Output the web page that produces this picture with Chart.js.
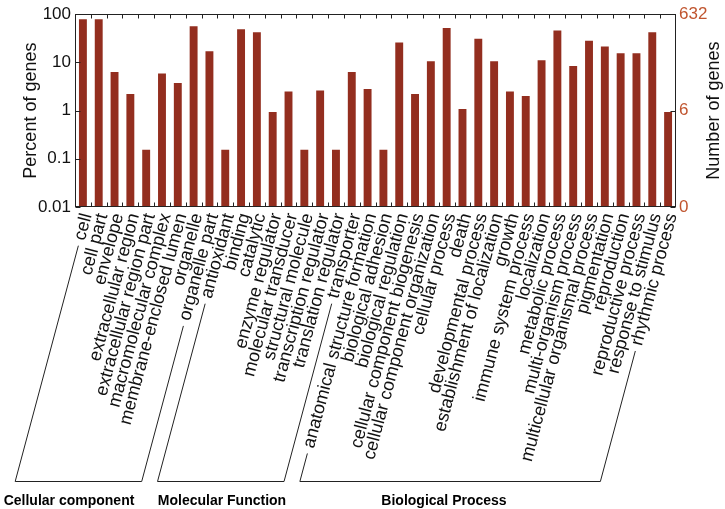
<!DOCTYPE html>
<html>
<head>
<meta charset="utf-8">
<script src="https://cdn.jsdelivr.net/npm/chart.js@4.4.0/dist/chart.umd.min.js"></script>
<style>
  html, body { margin: 0; padding: 0; background: #fff; }
  #wrap { width: 725px; height: 509px; }
</style>
</head>
<body>
<div id="wrap"><canvas id="goChart" width="725" height="509"></canvas></div>
<script>
// Categorias GO (na ordem do eixo x)
const categories = [
  'cell', 'cell part', 'envelope', 'extracellular region', 'extracellular region part',
  'macromolecular complex', 'membrane-enclosed lumen', 'organelle', 'organelle part',
  'antioxidant', 'binding', 'catalytic', 'enzyme regulator', 'molecular transducer',
  'structural molecule', 'transcription regulator', 'translation regulator', 'transporter',
  'anatomical structure formation', 'biological adhesion', 'biological regulation',
  'cellular component biogenesis', 'cellular component organization', 'cellular process',
  'death', 'developmental process', 'establishment of localization', 'growth',
  'immune system process', 'localization', 'metabolic process', 'multi-organism process',
  'multicellular organismal process', 'pigmentation', 'reproduction', 'reproductive process',
  'response to stimulus', 'rhythmic process'
];

// Percentual de genes (escala log)
const percentGenes = [
  79, 79, 6.3, 2.2, 0.155, 5.9, 3.75, 56, 17,
  0.155, 49, 42, 0.93, 2.5, 0.155, 2.6, 0.155, 6.3,
  2.8, 0.155, 26, 2.2, 10.6, 52, 1.08, 31, 10.6, 2.5,
  2.0, 11.1, 46, 8.4, 28, 21.5, 15.4, 15.4, 42, 0.93
];

const groupNames = ['Cellular component', 'Molecular Function', 'Biological Process'];
const groupSizes = [9, 9, 20];

const percentTicks = [0.01, 0.1, 1, 10, 100];
const totalGenes = 632;
const geneTickValues = [0.0632, 6.32, 632];
const geneTickLabels = ['0', '6', '632'];

const barColor = '#932E1F';
const geneAxisColor = '#C0552F';
const fontFamily = "'Liberation Sans', Arial, sans-serif";
const labelAngle = 75;

// Moldura, marcas internas, título da direita e chaves dos grupos
const decorations = {
  id: 'decorations',
  afterDraw(chart) {
    const ctx = chart.ctx;
    const a = chart.chartArea;
    const x = chart.scales.x, y = chart.scales.y, y2 = chart.scales.y2;

    ctx.save();
    ctx.strokeStyle = '#222';
    ctx.lineWidth = 1;
    const L = Math.round(a.left) + 0.5, R = Math.round(a.right) - 0.5;
    const T = Math.round(a.top) + 0.5, B = Math.round(a.bottom) - 0.5;
    ctx.strokeRect(L, T, R - L, B - T);

    ctx.beginPath();
    for (let i = 1; i < categories.length; i++) {
      const px = Math.round((x.getPixelForValue(i - 1) + x.getPixelForValue(i)) / 2) + 0.5;
      ctx.moveTo(px, B); ctx.lineTo(px, B - 4);
      ctx.moveTo(px, T); ctx.lineTo(px, T + 4);
    }
    percentTicks.forEach(v => {
      const py = Math.round(y.getPixelForValue(v)) + 0.5;
      ctx.moveTo(L, py); ctx.lineTo(L + 5, py);
    });
    geneTickValues.forEach(v => {
      const py = Math.round(y2.getPixelForValue(v)) + 0.5;
      ctx.moveTo(R, py); ctx.lineTo(R - 5, py);
    });
    ctx.stroke();

    // título do eixo direito (lido de baixo para cima)
    ctx.save();
    ctx.fillStyle = '#111';
    ctx.font = '18px ' + fontFamily;
    ctx.translate(714, (a.top + a.bottom) / 2);
    ctx.rotate(-Math.PI / 2);
    ctx.textAlign = 'center';
    ctx.textBaseline = 'middle';
    ctx.fillText('Number of genes', 0, 0);
    ctx.restore();

    // chaves dos grupos: cada perna continua a direção do rótulo
    const items = x.getLabelItems();
    const baseY = 481.5;
    function leg(i) {
      const it = items[i];
      ctx.font = it.font.string;
      const w = ctx.measureText(it.label).width + 6;
      const phi = it.options.rotation;
      const off = it.textOffset || 0;
      const tx = it.options.translation[0], ty = it.options.translation[1];
      const sx = tx - w * Math.cos(phi) - off * Math.sin(phi);
      const sy = ty - w * Math.sin(phi) + off * Math.cos(phi);
      const dx = -Math.cos(phi), dy = -Math.sin(phi);
      const t = (baseY - sy) / dy;
      return [sx, sy, sx + t * dx, baseY];
    }
    const textX = [69, 222, 444];
    let start = 0;
    groupSizes.forEach((n, g) => {
      const l = leg(start), r = leg(start + n - 1);
      ctx.beginPath();
      ctx.moveTo(l[0], l[1]);
      ctx.lineTo(l[2], l[3]);
      ctx.lineTo(r[2], r[3]);
      ctx.lineTo(r[0], r[1]);
      ctx.stroke();
      ctx.fillStyle = '#000';
      ctx.font = 'bold 14px ' + fontFamily;
      ctx.textAlign = 'center';
      ctx.textBaseline = 'alphabetic';
      ctx.fillText(groupNames[g], textX[g], 505);
      start += n;
    });
    ctx.restore();
  }
};

const ctx = document.getElementById('goChart').getContext('2d');
const goChart = new Chart(ctx, {
  type: 'bar',
  data: {
    labels: categories,
    datasets: [{
      data: percentGenes,
      backgroundColor: barColor,
      borderWidth: 0,
      barPercentage: 0.5,
      categoryPercentage: 1,
      yAxisID: 'y'
    }]
  },
  options: {
    responsive: false,
    animation: false,
    devicePixelRatio: 1,
    layout: { padding: { top: 7, left: 0, right: 0, bottom: 0 } },
    plugins: { legend: { display: false }, tooltip: { enabled: false } },
    scales: {
      x: {
        type: 'category',
        grid: { display: false, drawTicks: false },
        border: { display: false },
        ticks: {
          autoSkip: false,
          minRotation: labelAngle,
          maxRotation: labelAngle,
          labelOffset: 4,
          padding: 4,
          color: '#111',
          font: { family: fontFamily, size: 18 }
        },
        afterFit: s => { s.height = 302; }
      },
      y: {
        type: 'logarithmic',
        position: 'left',
        min: 0.01,
        max: 100,
        grid: { display: false, drawTicks: false },
        border: { display: false },
        afterBuildTicks: s => { s.ticks = percentTicks.map(v => ({ value: v })); },
        ticks: {
          padding: 4,
          color: '#111',
          font: { family: fontFamily, size: 17 },
          callback: v => String(v)
        },
        title: {
          display: true,
          text: 'Percent of genes',
          color: '#111',
          padding: { top: 20, bottom: 0 },
          font: { family: fontFamily, size: 18 }
        },
        afterFit: s => { s.width = 75; }
      },
      y2: {
        type: 'logarithmic',
        position: 'right',
        min: geneTickValues[0],
        max: totalGenes,
        grid: { display: false, drawTicks: false },
        border: { display: false },
        afterBuildTicks: s => { s.ticks = geneTickValues.map(v => ({ value: v })); },
        ticks: {
          padding: 3,
          color: geneAxisColor,
          font: { family: fontFamily, size: 17 },
          callback: (v, i) => geneTickLabels[i]
        },
        afterFit: s => { s.width = 49; }
      }
    }
  },
  plugins: [decorations]
});
</script>
</body>
</html>
